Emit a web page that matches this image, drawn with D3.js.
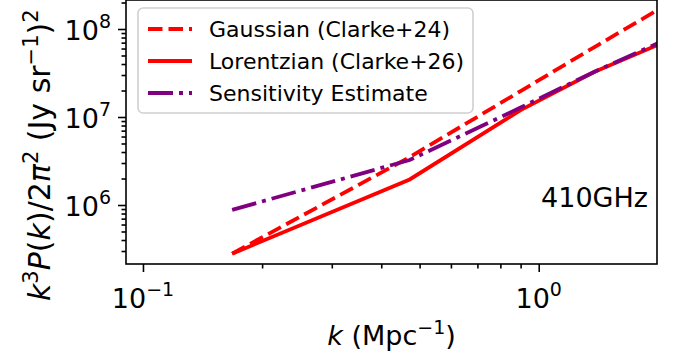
<!DOCTYPE html>
<html>
<head>
<meta charset="utf-8">
<script src="https://cdn.jsdelivr.net/npm/d3@7"></script>
<style>
  body { margin: 0; background: #fff; }
  svg { display: block; font-family: "DejaVu Sans", sans-serif; }
</style>
</head>
<body>
<svg id="chart" width="683" height="363"></svg>
<script>
// k bins (Mpc^-1)
var kVals = [0.168, 0.472, 0.9, 1.38, 2.0];
// k^3 P(k) / 2pi^2 values, (Jy sr^-1)^2
var gaussian = [2.8e5, 3.5e6, 1.97e7, 6.2e7, 1.65e8];
var lorentzian = [2.8e5, 1.95e6, 1.2e7, 3.25e7, 6.6e7];
var sensitivity = [8.8e5, 3.25e6, 1.28e7, 3.25e7, 6.9e7];

var seriesNames = ["Gaussian (Clarke+24)", "Lorentzian (Clarke+26)", "Sensitivity Estimate"];
var seriesColors = ["#ff0000", "#ff0000", "#800080"];
var xMajor = [0.1, 1];
var yMajor = [1e6, 1e7, 1e8];

var svg = d3.select("#chart");
var margin = { top: 0, right: 26, bottom: 99, left: 126 },
    width = 683 - margin.left - margin.right,
    height = 363 - margin.top - margin.bottom;

var x = d3.scaleLog().domain([0.0906, 1.99]).range([0, width]);
var y = d3.scaleLog().domain([2.136e5, 2.136e8]).range([height, 0]);

var g = svg.append("g")
    .attr("transform", "translate(" + margin.left + "," + margin.top + ")");

// minor ticks
var xMinor = [];
[0.01, 0.1, 1].forEach(function (d) {
    for (var i = 2; i < 10; i++) xMinor.push(d * i);
});
xMinor = xMinor.filter(function (v) { return v >= 0.0906 && v <= 1.99; });
var yMinor = [];
[1e5, 1e6, 1e7, 1e8].forEach(function (d) {
    for (var i = 2; i < 10; i++) yMinor.push(d * i);
});
yMinor = yMinor.filter(function (v) { return v >= 2.136e5 && v <= 2.136e8; });

function styleAxis(sel) {
    sel.select(".domain").remove();
    sel.selectAll(".tick line").attr("stroke", "#000").attr("stroke-width", 1.6);
}

g.append("g")
    .attr("transform", "translate(0," + height + ")")
    .call(d3.axisBottom(x).tickValues(xMinor).tickSize(4.5).tickFormat(""))
    .call(styleAxis);
g.append("g")
    .attr("transform", "translate(0," + height + ")")
    .call(d3.axisBottom(x).tickValues(xMajor).tickSize(8).tickFormat(""))
    .call(styleAxis);
g.append("g")
    .call(d3.axisLeft(y).tickValues(yMinor).tickSize(4.5).tickFormat(""))
    .call(styleAxis);
g.append("g")
    .call(d3.axisLeft(y).tickValues(yMajor).tickSize(8).tickFormat(""))
    .call(styleAxis);

// tick labels as 10^n
xMajor.forEach(function (v) {
    var t = g.append("text")
        .attr("x", x(v))
        .attr("y", height + 44)
        .attr("text-anchor", "middle")
        .attr("font-size", 27);
    t.append("tspan").text("10");
    t.append("tspan").attr("dy", -12).attr("font-size", 19)
        .text(v < 1 ? "\u22121" : "0");
});
yMajor.forEach(function (v) {
    var t = g.append("text")
        .attr("x", -15)
        .attr("y", y(v) + 11)
        .attr("text-anchor", "end")
        .attr("font-size", 27);
    t.append("tspan").text("10");
    t.append("tspan").attr("dy", -12).attr("font-size", 19)
        .text(Math.round(Math.log10(v)));
});

// lines
var allSeries = [gaussian, lorentzian, sensitivity];
var dashes = ["14.5,6", null, "25,6,4,6"];
var line = d3.line()
    .x(function (d, i) { return x(kVals[i]); })
    .y(function (d) { return y(d); });

g.append("clipPath").attr("id", "clip")
    .append("rect").attr("width", width).attr("height", height);

allSeries.forEach(function (s, i) {
    g.append("path")
        .datum(s)
        .attr("clip-path", "url(#clip)")
        .attr("fill", "none")
        .attr("stroke", seriesColors[i])
        .attr("stroke-width", 3.8)
        .attr("stroke-dasharray", dashes[i])
        .attr("d", line);
});

// spines
g.append("rect")
    .attr("width", width).attr("height", height)
    .attr("fill", "none").attr("stroke", "#000").attr("stroke-width", 1.6);

// frequency label
g.append("text")
    .attr("x", width - 9)
    .attr("y", 207)
    .attr("text-anchor", "end")
    .attr("font-size", 27)
    .text("410GHz");

// legend
var leg = g.append("g").attr("transform", "translate(12,8)");
leg.append("rect")
    .attr("width", 335).attr("height", 105)
    .attr("rx", 5).attr("ry", 5)
    .attr("fill", "#fff").attr("fill-opacity", 0.8)
    .attr("stroke", "#d0d0d0").attr("stroke-width", 1.6);
seriesNames.forEach(function (name, i) {
    var yy = 21 + i * 32;
    leg.append("line")
        .attr("x1", 10).attr("x2", 54)
        .attr("y1", yy).attr("y2", yy)
        .attr("stroke", seriesColors[i])
        .attr("stroke-width", 3.8)
        .attr("stroke-dasharray", dashes[i]);
    leg.append("text")
        .attr("x", 71).attr("y", yy + 8)
        .attr("font-size", 22)
        .text(name);
});

// axis labels
var xl = svg.append("text")
    .attr("x", margin.left + width / 2)
    .attr("y", 345)
    .attr("text-anchor", "middle")
    .attr("font-size", 27);
xl.append("tspan").attr("font-style", "italic").text("k");
xl.append("tspan").text(" (Mpc");
xl.append("tspan").attr("dy", -11).attr("font-size", 19).text("\u22121");
xl.append("tspan").attr("dy", 11).text(")");

var yl = svg.append("text")
    .attr("transform", "translate(50,301) rotate(-90)")
    .attr("text-anchor", "start")
    .attr("font-size", 30);
yl.append("tspan").attr("font-style", "italic").text("k");
yl.append("tspan").attr("dy", -12).attr("font-size", 21).text("3");
yl.append("tspan").attr("dy", 12).attr("font-style", "italic").text("P");
yl.append("tspan").text("(");
yl.append("tspan").attr("font-style", "italic").text("k");
yl.append("tspan").text(")/2");
yl.append("tspan").attr("font-style", "italic").text("\u03c0");
yl.append("tspan").attr("dy", -12).attr("font-size", 21).text("2");
yl.append("tspan").attr("dy", 12).text(" (Jy sr");
yl.append("tspan").attr("dy", -12).attr("font-size", 21).text("\u22121");
yl.append("tspan").attr("dy", 12).text(")");
yl.append("tspan").attr("dy", -12).attr("font-size", 21).text("2");
</script>
</body>
</html>
